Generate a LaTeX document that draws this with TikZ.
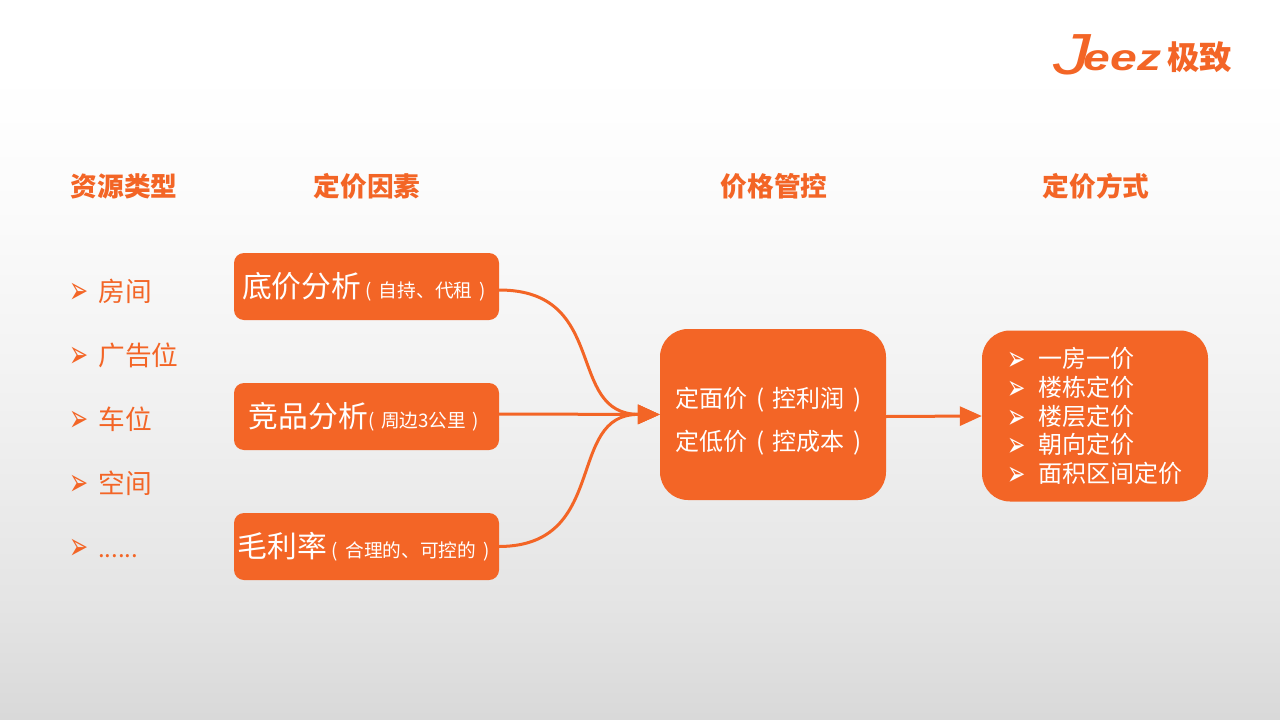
\documentclass[tikz,border=0pt]{standalone}
\usepackage{fontspec}
\setmainfont{Noto Sans CJK SC}
\newfontfamily\bulletfont{DejaVu Sans}
\newfontfamily\logofont[FakeStretch=1.3]{Liberation Sans}
\usepackage{tikz}
\usetikzlibrary{positioning, arrows.meta}
\definecolor{jeezorange}{RGB}{243,101,38}
\pgfdeclareverticalshading{pagefade}{100bp}{
  color(0bp)=(black!15); color(25bp)=(black!15); color(33bp)=(black!10.5); color(47bp)=(black!5.5); color(61bp)=(black!1.5); color(70bp)=(white); color(100bp)=(white)}
\newcommand{\bul}[3]{\raisebox{#3}{\scalebox{#1}[#2]{\bulletfont\fontsize{19}{19}\selectfont ➢}}}
\newcommand{\lbul}{\hspace{-1pt}\bul{1.2}{2}{-2pt}\hspace{10pt}}
\newcommand{\rbul}{\bul{1.15}{1.8}{-3pt}\hspace{12pt}}
\tikzset{
  heading/.style  = {text=jeezorange, font=\fontsize{26.7}{30}\selectfont\bfseries, inner sep=0pt},
  restype/.style  = {text=jeezorange, font=\fontsize{26.7}{30}\selectfont, anchor=base west, inner sep=0pt},
  factor/.style   = {rectangle, rounded corners=10pt, fill=jeezorange, text=white, minimum width=265pt, minimum height=67pt, inner sep=0pt},
  bigbox/.style   = {rectangle, rounded corners=28pt, fill=jeezorange, text=white, minimum width=226pt, inner sep=0pt, align=left},
  conn/.style     = {-{Triangle[length=22pt, width=19pt]}, line width=3pt, draw=jeezorange},
}
\newcommand{\factortext}[2]{\raisebox{-1.5pt}{{\fontsize{29.8}{32}\selectfont #1}{\fontsize{18.7}{22}\selectfont #2}\hspace{5pt}}}
\begin{document}
\begin{tikzpicture}[x=1pt, y=-1pt]
    % page with soft fade
    \shade[shading=pagefade] (0,0) rectangle (1280,720);
    \useasboundingbox (0,0) rectangle (1280,720);

    % logo
    \node[text=jeezorange, inner sep=0pt, anchor=base west, font=\logofont\itshape] (logo) at (1053,70)
      {\raisebox{-4pt}{\fontsize{58}{58}\selectfont J}\kern-7pt{\bfseries\fontsize{37}{37}\selectfont eez}};
    \node[text=jeezorange, inner sep=0pt, anchor=west, font=\fontsize{32.5}{34}\selectfont\bfseries] (logocn) at (1167,57.5) {极致};

    % column headings
    \node[heading] (headres) at (124,186) {资源类型};
    \node[heading] (headfac) at (367,186) {定价因素};
    \node[heading] (headctl) at (774,186) {价格管控};
    \node[heading] (headway) at (1096,186) {定价方式};

    % resource types
    \node[restype] (room) at (70,301) {\lbul 房间};
    \node[restype] (adv) at (70,365) {\lbul 广告位};
    \node[restype] (park) at (70,429) {\lbul 车位};
    \node[restype] (space) at (70,493) {\lbul 空间};
    \node[restype] (more) at (70,557) {\lbul{\fontsize{24}{30}\selectfont ......}};

    % pricing factors
    \node[factor] (floor) at (366.5,286.5) {\factortext{底价分析}{ (\hspace{3pt} 自持、代租 \hspace{3pt})}};
    \node[factor] (rival) at (366.5,416.5) {\factortext{竞品分析}{(\hspace{2.5pt} 周边3公里 \hspace{2.5pt})}};
    \node[factor] (margin) at (366.5,546.5) {\factortext{毛利率}{ (\hspace{3.5pt} 合理的、可控的 \hspace{3.5pt})}};

    % price control
    \node[bigbox, minimum height=171pt, text height=77pt, font=\fontsize{24}{43}\selectfont] (control) at (773,414.5)
      {定面价\hspace{3pt} (\hspace{3pt} 控利润\hspace{3pt} )\kern9pt\\定低价\hspace{3pt} (\hspace{3pt} 控成本\hspace{3pt} )\kern9pt};

    % pricing ways
    \node[bigbox, minimum height=171pt, text height=136.5pt, font=\fontsize{24}{28.8}\selectfont] (ways) at (1095,416)
      {\rbul 一房一价\\\rbul 楼栋定价\\\rbul 楼层定价\\\rbul 朝向定价\\\rbul 面积区间定价};

    % edges: factors -> control
    \draw[conn] ([yshift=-3.5pt]floor.east) .. controls (610,290) and (565,414) .. (control.west);
    \draw[conn] ([yshift=2.5pt]rival.east) -- (control.west);
    \draw[conn] (margin.east) .. controls (610,546) and (565,414) .. (control.west);

    % edge: control -> ways
    \draw[conn] ([yshift=-2pt]control.east) -- (ways.west);
  \end{tikzpicture}
\end{document}
